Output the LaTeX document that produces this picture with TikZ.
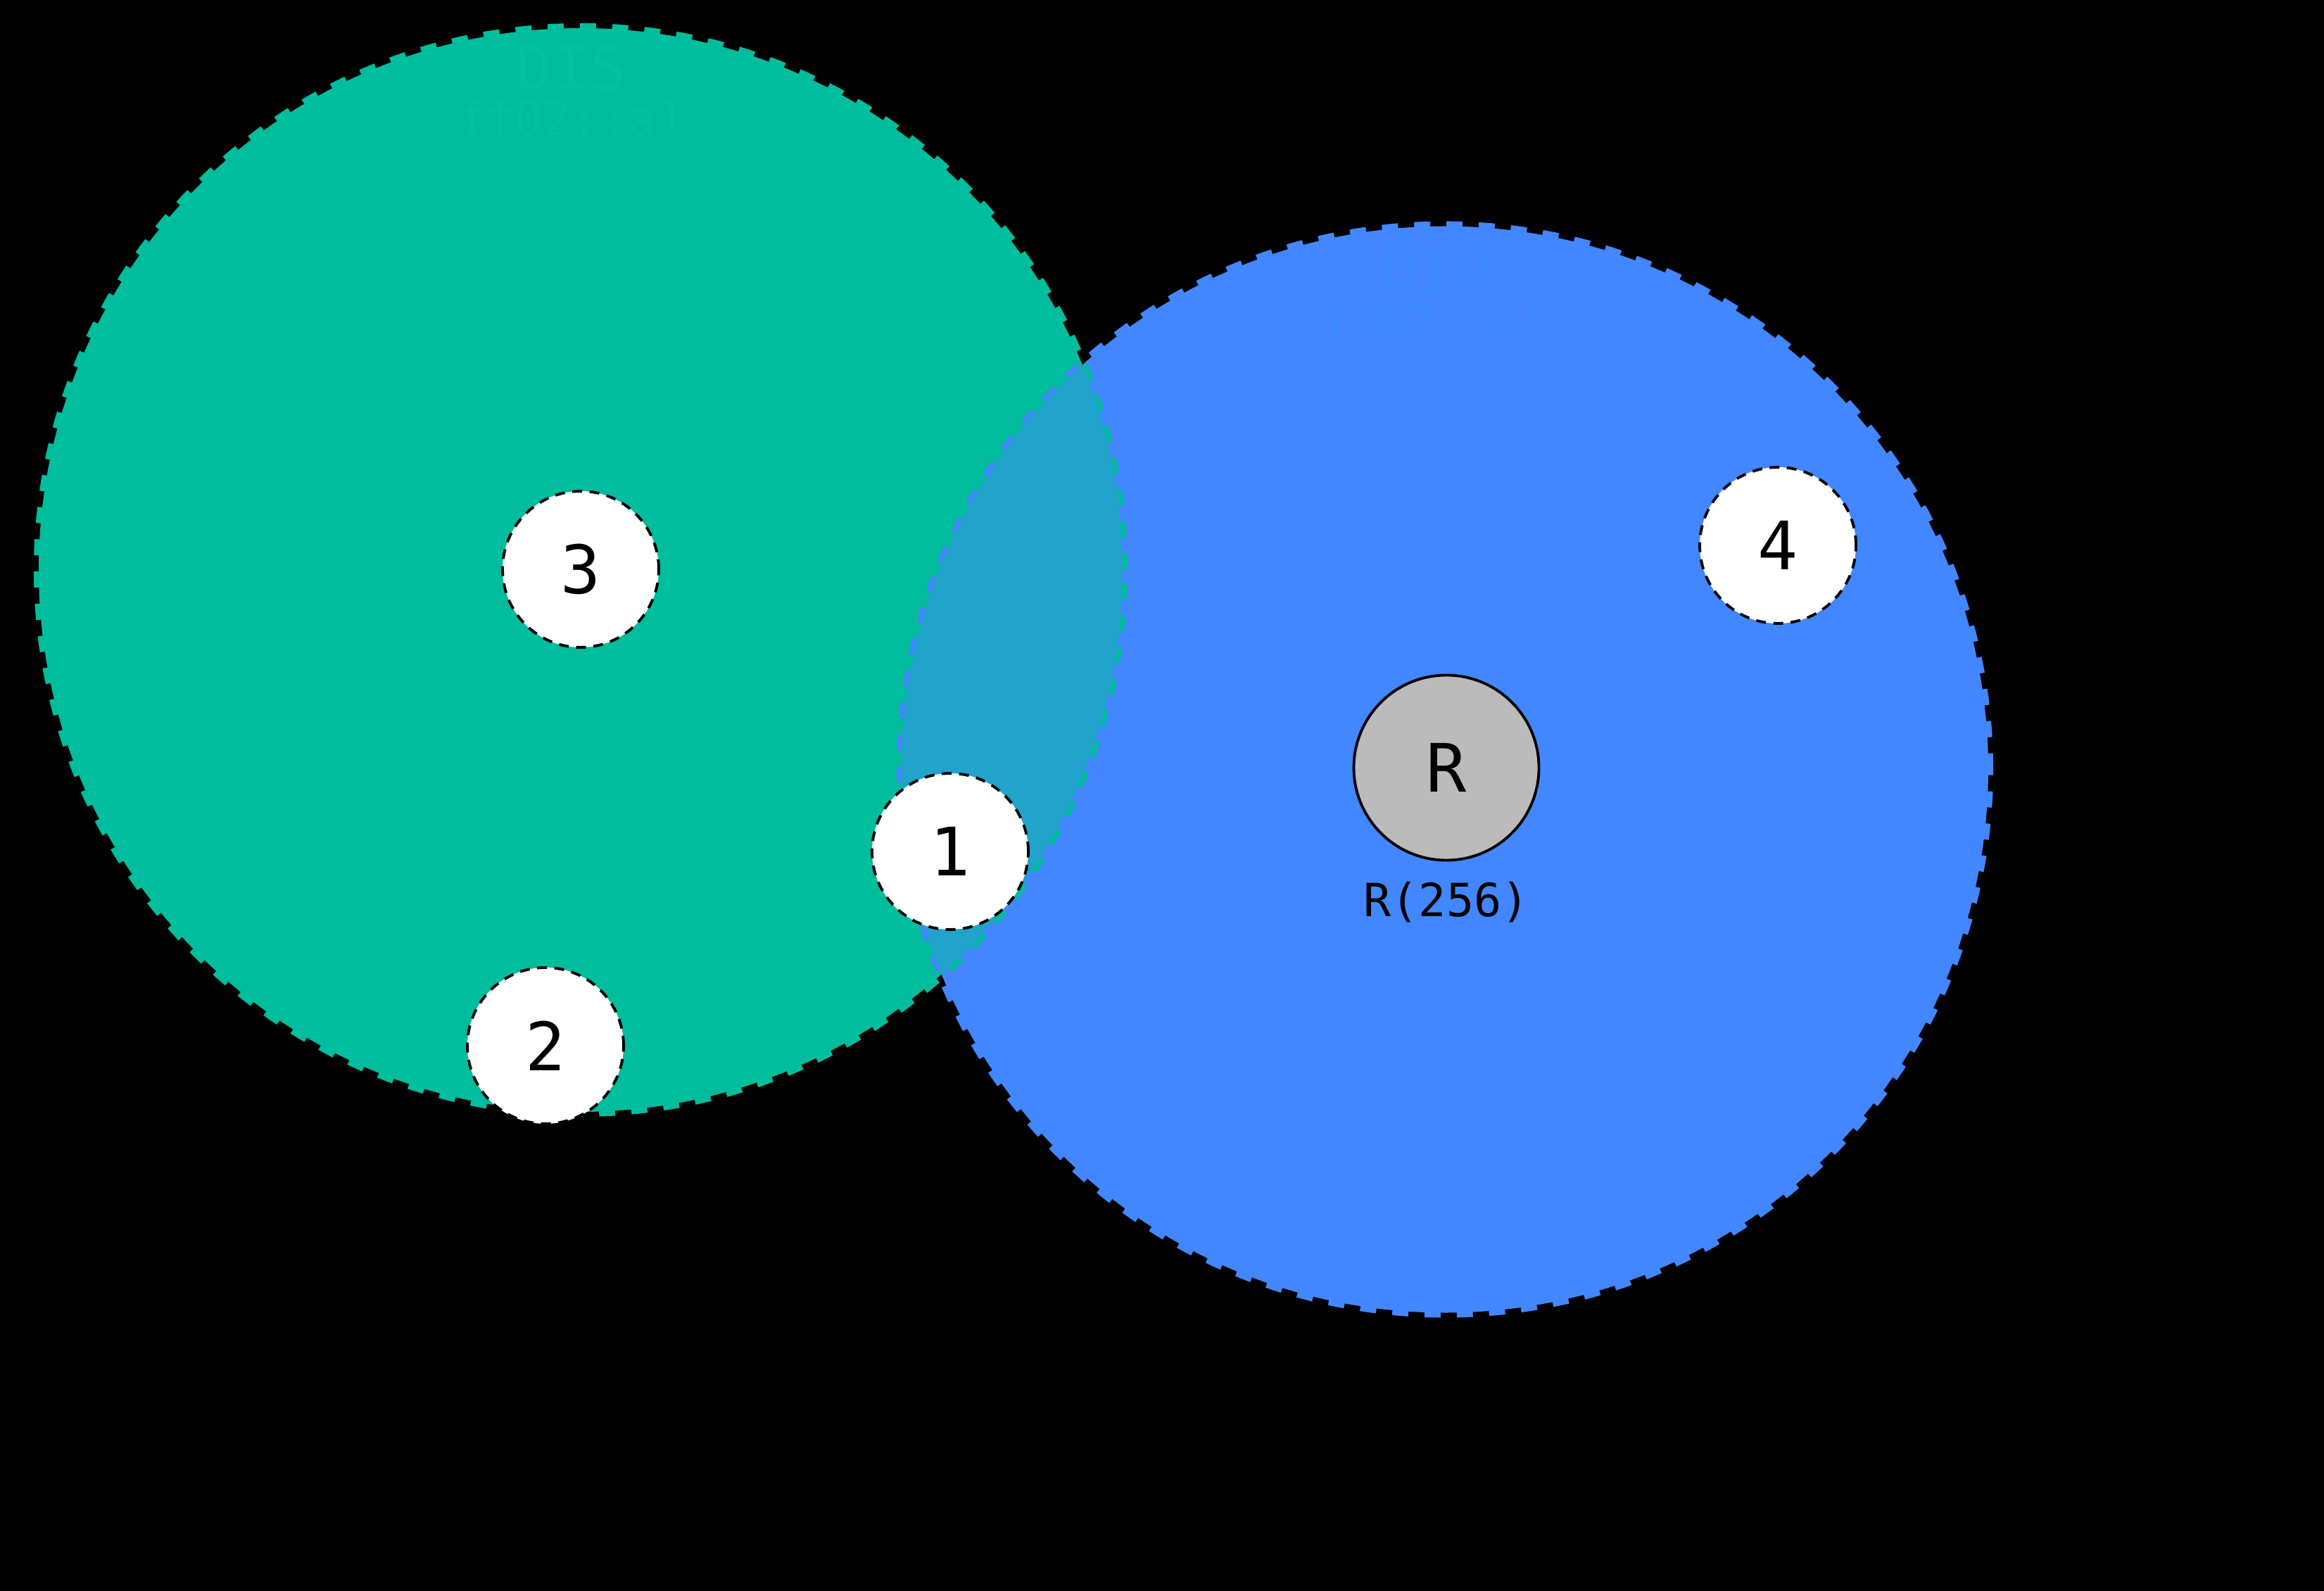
\documentclass[tikz,border=0pt]{standalone}
\usepackage{fontspec}
\setmainfont{DejaVu Sans Mono}
\definecolor{disgreen}{RGB}{0,189,157}
\definecolor{dioblue}{RGB}{66,135,255}
\definecolor{bothmix}{RGB}{33,163,204}
\definecolor{distext}{RGB}{2,193,161}
\definecolor{diotext}{RGB}{62,139,255}
\definecolor{rootgray}{RGB}{187,187,187}

\begin{document}
\begin{tikzpicture}[
        zone/.style = {circle, inner sep=0pt, minimum size=#1},
        zoneline/.style = {line width=4pt, dash pattern=on 6.5pt off 6.5pt},
        mote/.style = {draw, circle, fill=white, line width=1.1pt, dash pattern=on 4pt off 3pt,
            minimum size=2.22cm, inner sep=0pt, font=\fontsize{27}{30}\selectfont},
        big/.style = {font=\fontsize{24.6}{28}\selectfont},
        small/.style = {font=\fontsize{19}{22}\selectfont}]
        \useasboundingbox (0,0) rectangle (33.02,-22.61);
        \fill[black] (0,0) rectangle (33.02,-22.61);

        % the two scopes
        \node[zone=15.4cm, fill=disgreen] (dis) at (8.25,-8.10) {};
        \node[zone=15.44cm, fill=dioblue] (dio) at (20.53,-10.935) {};
        \draw[zoneline, disgreen] (dis.center) circle (7.7);
        \draw[zoneline, dioblue] (dio.center) circle (7.72);
        \begin{scope}
            \clip (dis.center) circle (7.7);
            \fill[bothmix] (dio.center) circle (7.72);
        \end{scope}

        \node[big, text=distext] (dishead) at (8.12,-0.965) {DIS};
        \node[small, text=distext] (disaddr) at (8.12,-1.675) {ff02::a1};
        \node[big, text=diotext] (diohead) at (20.40,-3.82) {DIO};
        \node[small, text=diotext] (dioaddr) at (20.40,-4.56) {ff02::a1};

        % nodes
        \node[mote] (m3) at (8.25,-8.09) {3};
        \node[mote] (m1) at (13.50,-12.10) {1};
        \node[mote] (m2) at (7.75,-14.86) {2};
        \node[mote] (m4) at (25.26,-7.75) {4};
        \node[draw, circle, fill=rootgray, line width=1.1pt, minimum size=2.63cm, inner sep=0pt,
            font=\fontsize{27}{30}\selectfont,
            label={[font=\fontsize{18.5}{20}\selectfont, label distance=0.16cm]below:R(256)}] (root) at (20.55,-10.91) {R};

    \end{tikzpicture}
\end{document}
